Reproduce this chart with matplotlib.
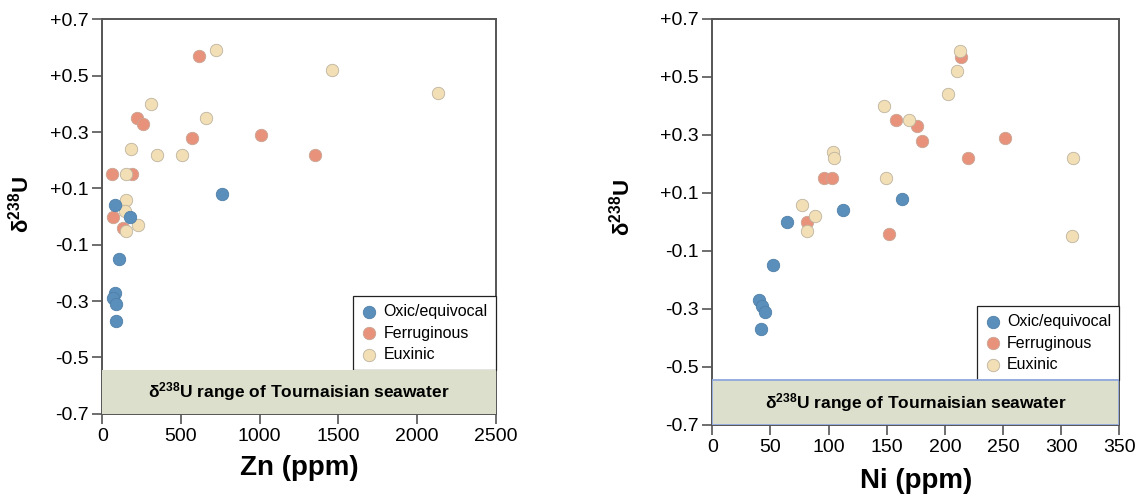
import numpy as np
import matplotlib
matplotlib.use('Agg')
import matplotlib.pyplot as plt

plt.rcParams['font.family'] = ['Liberation Sans', 'DejaVu Sans']
plt.rcParams['mathtext.fontset'] = 'custom'
plt.rcParams['mathtext.rm'] = 'Liberation Sans'
plt.rcParams['mathtext.it'] = 'Liberation Sans:italic'
plt.rcParams['mathtext.bf'] = 'Liberation Sans:bold'

# --- data ---
# Zn panel
zn_oxic = [761, 81, 176, 106, 81, 70, 85, 87]
du_zn_oxic = [0.08, 0.04, 0.00, -0.15, -0.27, -0.29, -0.31, -0.37]
zn_ferr = [612, 220, 259, 572, 1008, 1353, 62, 191, 68, 132]
du_zn_ferr = [0.57, 0.35, 0.33, 0.28, 0.29, 0.22, 0.15, 0.15, 0.00, -0.04]
zn_eux = [724, 1461, 2131, 307, 659, 184, 350, 504, 153, 151, 146, 225, 151]
du_zn_eux = [0.59, 0.52, 0.44, 0.40, 0.35, 0.24, 0.22, 0.22, 0.15, 0.06, 0.02, -0.03, -0.05]

# Ni panel
ni_oxic = [163, 112, 64, 52, 40, 43, 45, 42]
du_ni_oxic = [0.08, 0.04, 0.00, -0.15, -0.27, -0.29, -0.31, -0.37]
ni_ferr = [214, 158, 176, 180, 252, 220, 96, 103, 81, 152]
du_ni_ferr = [0.57, 0.35, 0.33, 0.28, 0.29, 0.22, 0.15, 0.15, 0.00, -0.04]
ni_eux = [213, 210, 203, 148, 169, 310, 104, 105, 149, 77, 88, 81, 309]
du_ni_eux = [0.59, 0.52, 0.44, 0.40, 0.35, 0.22, 0.24, 0.22, 0.15, 0.06, 0.02, -0.03, -0.05]

seawater_range = [-0.7, -0.545]
y_ticks = [-0.7, -0.5, -0.3, -0.1, 0.1, 0.3, 0.5, 0.7]
y_ticklabels = ['-0.7', '-0.5', '-0.3', '-0.1', '+0.1', '+0.3', '+0.5', '+0.7']
zn_ticks = [0, 500, 1000, 1500, 2000, 2500]
ni_ticks = [0, 50, 100, 150, 200, 250, 300, 350]

c_oxic = '#5b8fbb'
c_ferr = '#e8927c'
c_eux = '#f3dfb6'
band_col = '#dcdfcb'
spine_col = '#555555'

fig = plt.figure(figsize=(11.45, 5.03), dpi=100)
ax1 = fig.add_axes([0.0893, 0.1775, 0.3436, 0.7841])
ax2 = fig.add_axes([0.6221, 0.1551, 0.3555, 0.8072])


def draw_panel(ax, xo, yo, xf, yf, xe, ye, xmax, xticks, xlabel, band_edge):
    ax.scatter(xo, yo, s=80, color=c_oxic, edgecolor='#4f7fa8', linewidth=0.6,
               zorder=4, label='Oxic/equivocal')
    ax.scatter(xf, yf, s=80, color=c_ferr, edgecolor='#c9a593', linewidth=0.6,
               zorder=2, label='Ferruginous')
    ax.scatter(xe, ye, s=80, color=c_eux, edgecolor='#bdb39f', linewidth=0.6,
               zorder=3, label='Euxinic')
    ax.set_xlim(0, xmax)
    ax.set_ylim(-0.7, 0.7)
    ax.set_xticks(xticks)
    ax.set_yticks(y_ticks)
    ax.set_yticklabels(y_ticklabels)
    ax.tick_params(direction='out', length=7, width=1.2, color=spine_col,
                   labelsize=14, pad=3)
    for sp in ax.spines.values():
        sp.set_color(spine_col)
        sp.set_linewidth(1.4)

    leg = ax.legend(loc='lower right', bbox_to_anchor=(1.0, 0.111), fontsize=11.5,
                    frameon=True, fancybox=False, framealpha=1, edgecolor='#222222',
                    borderaxespad=0, handlelength=1.0, handletextpad=0.4,
                    labelspacing=0.4, borderpad=0.5, scatterpoints=1)
    leg.get_frame().set_linewidth(0.9)

    if band_edge:
        ax.axhspan(seawater_range[0], seawater_range[1], facecolor=band_col,
                   edgecolor='#8fa7dc', linewidth=1.3, zorder=6)
    else:
        ax.axhspan(seawater_range[0], seawater_range[1], facecolor=band_col,
                   edgecolor='none', zorder=6)
    ax.text(xmax / 2, np.mean(seawater_range),
            r'$\mathbf{\delta^{238}U}$ range of Tournaisian seawater',
            ha='center', va='center', fontsize=12.5, fontweight='bold', zorder=7)

    ax.set_xlabel(xlabel, fontsize=20, fontweight='bold')
    ax.set_ylabel(r'$\mathbf{\delta^{238}U}$', fontsize=16)


draw_panel(ax1, zn_oxic, du_zn_oxic, zn_ferr, du_zn_ferr, zn_eux, du_zn_eux,
           2500, zn_ticks, 'Zn (ppm)', False)
draw_panel(ax2, ni_oxic, du_ni_oxic, ni_ferr, du_ni_ferr, ni_eux, du_ni_eux,
           350, ni_ticks, 'Ni (ppm)', True)

ax1.xaxis.set_label_coords(0.5, -0.105)
ax2.xaxis.set_label_coords(0.5, -0.105)
ax1.yaxis.set_label_coords(-0.175, 0.53)
ax2.yaxis.set_label_coords(-0.19, 0.535)

fig.savefig('out.png', dpi=100)
